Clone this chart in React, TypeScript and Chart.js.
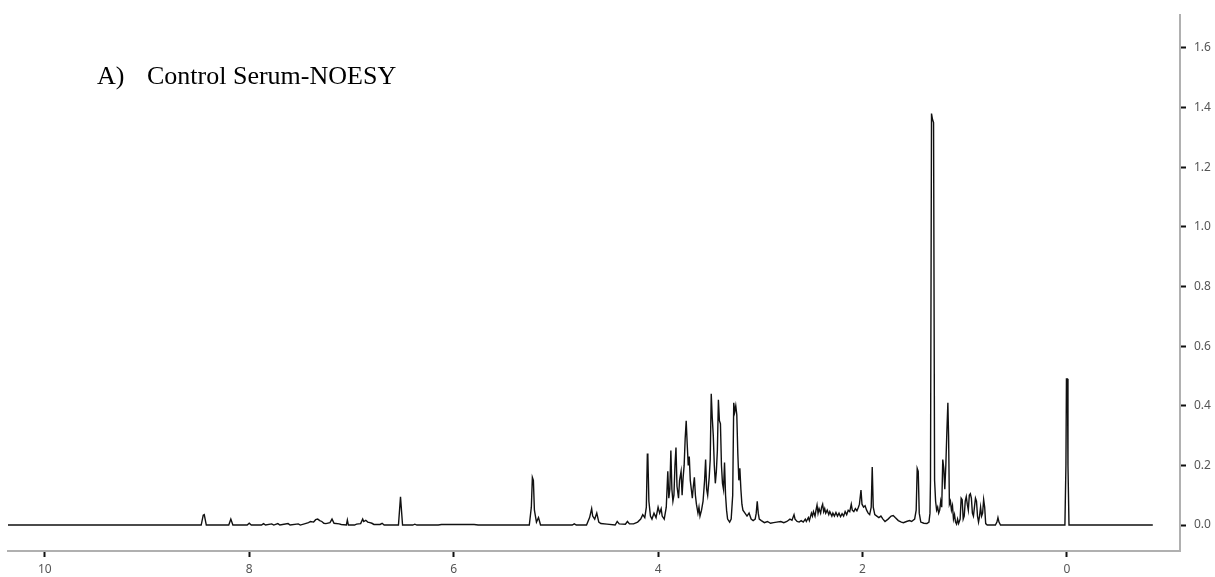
import { useEffect, useRef } from "react";
import { Chart, registerables } from "chart.js";

Chart.register(...registerables);

// Chemical shift (ppm) and intensity
const chemicalShiftPpm = [
  10.36, 8.47, 8.45, 8.44, 8.42, 8.2, 8.18, 8.16, 8.02, 8.0, 7.98, 7.88, 7.86, 7.84, 7.78, 7.76, 7.72, 7.7,
  7.62, 7.6, 7.52, 7.5, 7.42, 7.4, 7.37, 7.35, 7.33, 7.31, 7.29, 7.27, 7.25, 7.21, 7.19, 7.17, 7.12, 7.1,
  7.05, 7.04, 7.03, 6.97, 6.95, 6.91, 6.89, 6.88, 6.86, 6.84, 6.82, 6.8, 6.78, 6.72, 6.7, 6.68, 6.54, 6.52,
  6.5, 6.4, 6.38, 6.36, 6.15, 6.12, 5.8, 5.76, 5.26, 5.24, 5.23, 5.22, 5.21, 5.19, 5.17, 5.15, 4.84, 4.82,
  4.8, 4.7, 4.67, 4.65, 4.64, 4.62, 4.6, 4.58, 4.56, 4.5, 4.42, 4.4, 4.38, 4.32, 4.3, 4.28, 4.24, 4.2,
  4.17, 4.15, 4.13, 4.115, 4.105, 4.1, 4.09, 4.075, 4.06, 4.04, 4.02, 4.0, 3.985, 3.97, 3.96, 3.94, 3.92,
  3.905, 3.895, 3.885, 3.875, 3.865, 3.855, 3.845, 3.835, 3.825, 3.815, 3.8, 3.79, 3.775, 3.765, 3.755,
  3.745, 3.735, 3.725, 3.715, 3.705, 3.695, 3.685, 3.675, 3.665, 3.655, 3.645, 3.635, 3.625, 3.61, 3.6,
  3.59, 3.575, 3.56, 3.545, 3.535, 3.525, 3.515, 3.5, 3.49, 3.48, 3.47, 3.46, 3.45, 3.44, 3.43, 3.42, 3.41,
  3.4, 3.39, 3.38, 3.37, 3.36, 3.35, 3.34, 3.33, 3.32, 3.3, 3.285, 3.27, 3.26, 3.25, 3.24, 3.23, 3.22, 3.21,
  3.2, 3.19, 3.18, 3.17, 3.15, 3.13, 3.11, 3.09, 3.07, 3.05, 3.04, 3.03, 3.02, 3.01, 2.99, 2.96, 2.93, 2.9,
  2.87, 2.84, 2.8, 2.77, 2.74, 2.71, 2.69, 2.67, 2.66, 2.64, 2.62, 2.6, 2.58, 2.56, 2.55, 2.53, 2.52, 2.5,
  2.49, 2.48, 2.465, 2.455, 2.445, 2.435, 2.425, 2.41, 2.4, 2.39, 2.38, 2.37, 2.36, 2.345, 2.33, 2.32, 2.3,
  2.29, 2.275, 2.26, 2.245, 2.23, 2.215, 2.2, 2.185, 2.17, 2.155, 2.14, 2.125, 2.11, 2.1, 2.085, 2.07,
  2.055, 2.04, 2.03, 2.015, 2.005, 1.99, 1.975, 1.96, 1.945, 1.93, 1.915, 1.905, 1.895, 1.88, 1.86, 1.84,
  1.82, 1.8, 1.78, 1.75, 1.72, 1.7, 1.68, 1.65, 1.62, 1.6, 1.57, 1.54, 1.52, 1.49, 1.475, 1.465, 1.455,
  1.445, 1.43, 1.4, 1.37, 1.35, 1.34, 1.335, 1.325, 1.315, 1.305, 1.295, 1.285, 1.275, 1.265, 1.255, 1.245,
  1.235, 1.225, 1.215, 1.205, 1.195, 1.185, 1.175, 1.165, 1.158, 1.15, 1.14, 1.13, 1.12, 1.11, 1.1, 1.09,
  1.08, 1.07, 1.06, 1.045, 1.035, 1.025, 1.015, 1.005, 0.995, 0.985, 0.975, 0.965, 0.955, 0.945, 0.935,
  0.925, 0.915, 0.905, 0.895, 0.885, 0.875, 0.865, 0.855, 0.845, 0.835, 0.825, 0.815, 0.805, 0.795, 0.78,
  0.7, 0.685, 0.675, 0.665, 0.65, 0.02, 0.01, 0.005, -0.005, -0.01, -0.02, -0.84,
];

const intensity = [
  0, 0, 0.033, 0.035, 0, 0, 0.02, 0, 0, 0.006, 0, 0, 0.005, 0, 0.004, 0, 0.005, 0,
  0.005, 0, 0.004, 0, 0.008, 0.012, 0.01, 0.018, 0.02, 0.015, 0.012, 0.006, 0.005, 0.008, 0.02, 0.006, 0.004, 0.002,
  0, 0.017, 0, 0, 0.003, 0.005, 0.02, 0.012, 0.016, 0.01, 0.008, 0.006, 0.002, 0.002, 0.006, 0, 0, 0.095,
  0, 0, 0.003, 0, 0, 0.002, 0.002, 0, 0, 0.06, 0.16, 0.15, 0.05, 0.01, 0.025, 0, 0, 0.004,
  0, 0, 0.025, 0.055, 0.03, 0.02, 0.04, 0.01, 0.005, 0.003, 0, 0.012, 0.004, 0.003, 0.012, 0.004, 0.004, 0.01,
  0.02, 0.035, 0.025, 0.06, 0.24, 0.23, 0.08, 0.03, 0.02, 0.04, 0.025, 0.06, 0.04, 0.055, 0.03, 0.02, 0.06,
  0.18, 0.09, 0.12, 0.25, 0.12, 0.08, 0.1, 0.2, 0.26, 0.13, 0.09, 0.15, 0.18, 0.1, 0.16,
  0.2, 0.29, 0.35, 0.27, 0.2, 0.23, 0.15, 0.12, 0.09, 0.13, 0.16, 0.1, 0.07, 0.04, 0.06,
  0.03, 0.05, 0.08, 0.15, 0.22, 0.12, 0.1, 0.16, 0.22, 0.44, 0.36, 0.3, 0.2, 0.14, 0.18, 0.25, 0.42,
  0.35, 0.34, 0.2, 0.14, 0.12, 0.21, 0.1, 0.05, 0.02, 0.01, 0.02, 0.1, 0.41, 0.38, 0.4, 0.37, 0.24, 0.15,
  0.19, 0.12, 0.07, 0.05, 0.04, 0.03, 0.04, 0.02, 0.015, 0.02, 0.04, 0.08, 0.04, 0.02, 0.015, 0.008, 0.012, 0.006,
  0.008, 0.01, 0.012, 0.008, 0.012, 0.02, 0.016, 0.035, 0.02, 0.012, 0.01, 0.015, 0.01, 0.02, 0.012, 0.025, 0.015, 0.04,
  0.03, 0.045, 0.03, 0.05, 0.067, 0.04, 0.055, 0.04, 0.06, 0.07, 0.045, 0.055, 0.04, 0.05, 0.035, 0.045, 0.03,
  0.04, 0.03, 0.042, 0.03, 0.04, 0.028, 0.038, 0.03, 0.045, 0.035, 0.05, 0.045, 0.07, 0.05, 0.045, 0.055,
  0.048, 0.06, 0.07, 0.117, 0.07, 0.06, 0.065, 0.05, 0.04, 0.035, 0.06, 0.195, 0.06, 0.035, 0.03, 0.025,
  0.03, 0.02, 0.012, 0.02, 0.03, 0.032, 0.025, 0.015, 0.01, 0.008, 0.012, 0.015, 0.012, 0.02, 0.05, 0.19, 0.18,
  0.04, 0.01, 0.006, 0.005, 0.01, 0.04, 0.15, 1.38, 1.36, 1.35, 0.15, 0.08, 0.05, 0.06, 0.04, 0.05,
  0.08, 0.06, 0.22, 0.19, 0.12, 0.2, 0.31, 0.41, 0.3, 0.07, 0.08, 0.05, 0.065, 0.02, 0.035, 0.01,
  0.003, 0.02, 0.005, 0.02, 0.09, 0.085, 0.02, 0.03, 0.08, 0.095, 0.07, 0.05, 0.1, 0.105, 0.09,
  0.04, 0.03, 0.06, 0.09, 0.08, 0.03, 0.01, 0.03, 0.06, 0.03, 0.04, 0.085, 0.06, 0.005, 0,
  0, 0.01, 0.025, 0.01, 0, 0, 0.2, 0.49, 0.49, 0.2, 0, 0,
];

const xTickValues = [10, 8, 6, 4, 2, 0];
const yTickValues = [0, 0.2, 0.4, 0.6, 0.8, 1.0, 1.2, 1.4, 1.6];
const titleMarker = "A)";
const titleText = "Control Serum-NOESY";

export default function App() {
  const canvasRef = useRef<HTMLCanvasElement | null>(null);

  useEffect(() => {
    document.body.style.margin = "0";
    const canvas = canvasRef.current;
    if (!canvas) return;

    const titlePlugin = {
      id: "spectrumTitle",
      afterDraw(chart: any) {
        const ctx = chart.ctx;
        ctx.save();
        ctx.font = '26px "Liberation Serif"';
        ctx.fillStyle = "#000";
        ctx.textBaseline = "alphabetic";
        ctx.textAlign = "left";
        ctx.fillText(titleMarker, 97, 84);
        ctx.fillText(titleText, 147, 84);
        ctx.restore();
      },
    };

    const tickFont = { family: '"Noto Sans", sans-serif', size: 12 };

    const chart = new Chart(canvas, {
      type: "line",
      data: {
        datasets: [
          {
            data: chemicalShiftPpm.map((x, i) => ({ x, y: intensity[i] })),
            borderColor: "#111",
            borderWidth: 1.4,
            pointRadius: 0,
            tension: 0,
            fill: false,
          },
        ],
      },
      options: {
        responsive: false,
        animation: false,
        devicePixelRatio: 1,
        layout: { padding: { left: 8, top: 13, right: 0, bottom: 0 } },
        plugins: {
          legend: { display: false },
          tooltip: { enabled: false },
          title: { display: false },
        },
        scales: {
          x: {
            type: "linear",
            reverse: true,
            min: -1.106,
            max: 10.36,
            afterBuildTicks: (s: any) => {
              s.ticks = xTickValues.map((v) => ({ value: v }));
            },
            afterFit: (s: any) => {
              s.height = 26;
            },
            grid: {
              display: true,
              drawOnChartArea: false,
              drawTicks: true,
              tickLength: 6,
              tickWidth: 2,
              tickColor: "#111",
            },
            border: { display: true, color: "#b0b0b0", width: 2 },
            ticks: {
              color: "#555",
              font: tickFont,
              padding: 5,
              maxRotation: 0,
              autoSkip: false,
              callback: (v: any) => String(v),
            },
          },
          y: {
            type: "linear",
            position: "right",
            min: -0.087,
            max: 1.71,
            afterBuildTicks: (s: any) => {
              s.ticks = yTickValues.map((v) => ({ value: v }));
            },
            afterFit: (s: any) => {
              s.width = 35;
            },
            grid: {
              display: true,
              drawOnChartArea: false,
              drawTicks: true,
              tickLength: 6,
              tickWidth: 2,
              tickColor: "#111",
            },
            border: { display: true, color: "#b0b0b0", width: 2 },
            ticks: {
              color: "#555",
              font: tickFont,
              padding: 8,
              autoSkip: false,
              callback: (v: any) => Number(v).toFixed(1),
            },
          },
        },
      },
      plugins: [titlePlugin],
    } as any);

    return () => chart.destroy();
  }, []);

  return (
    <div style={{ width: 1215, height: 577, background: "#fff" }}>
      <canvas ref={canvasRef} width={1215} height={577} style={{ display: "block" }} />
    </div>
  );
}
